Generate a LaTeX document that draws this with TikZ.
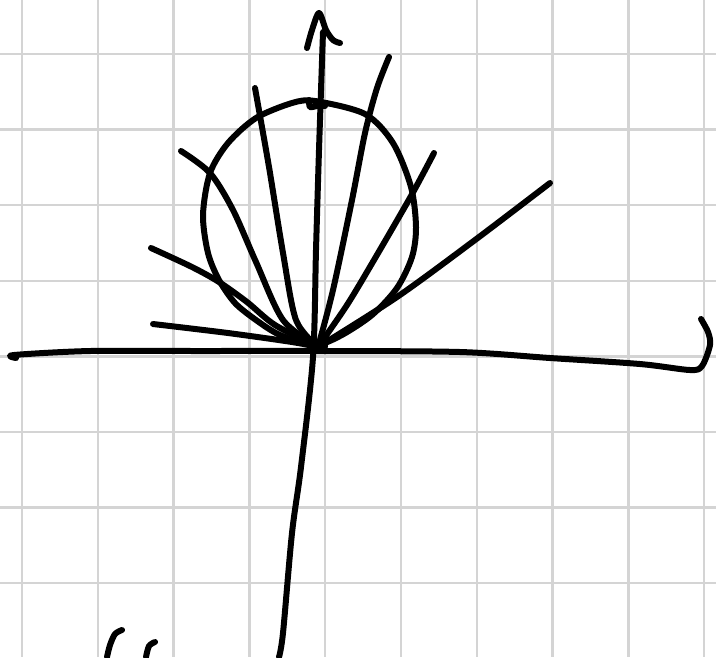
\documentclass[tikz,border=0pt]{standalone}
\usepackage{tikz}
\definecolor{paper}{HTML}{D4D4D4}

\begin{document}
\begin{tikzpicture}[
  x=0.02cm, y=-0.02cm,
  gridline/.style={draw=paper, line width=0.045cm},
  ink/.style={draw=black, line width=0.12cm, line cap=round, line join=round}]
\useasboundingbox[fill=white] (0,0) rectangle (716,657);
% squared paper
\foreach \gx in {0,...,9} \draw[gridline] (22+75.8*\gx,0) -- (22+75.8*\gx,657);
\foreach \gy in {0,...,7} \draw[gridline] (0,54+75.6*\gy) -- (716,54+75.6*\gy);
\coordinate (o) at (318,347);
% axes
\draw[ink] plot[smooth, tension=0.5] coordinates {(16,358) (14,355) (90,351) (200,351) (318,351) (460,352)
  (550,358) (640,364) (690,370) (702,366) (710,345) (708,332) (701,319)};
\draw[ink] plot[smooth] coordinates {(279,657) (283,633) (292,533) (301,467) (313,357) (316,250) (319,150) (323,32)};
\draw[ink] plot[smooth] coordinates {(307,48) (312,30) (319,13) (326,30) (333,40) (340,43)};
% circle
\draw[ink] plot[smooth cycle] coordinates {(315,101) (365,114) (393,143) (411,187) (416,227) (412,257)
  (397,288) (372,315) (340,336) (314,345) (280,335) (256,320) (235,303) (219,280) (208,253)
  (203,215) (210,173) (228,143) (256,118) (292,103)};
\draw[ink] plot[smooth] coordinates {(309,100) (310,107) (317,106) (325,106)};
% family of curves through the origin
\draw[ink] plot[smooth] coordinates {(153,324) (228,333) (292,342) (o)};
\draw[ink] plot[smooth] coordinates {(151,248) (192,267) (219,282) (247,302) (275,325) (o)};
\draw[ink] plot[smooth] coordinates {(181,151) (210,173) (233,210) (256,262) (283,320) (o)};
\draw[ink] plot[smooth] coordinates {(255,88) (269,167) (283,253) (296,320) (o)};
\draw[ink] plot[smooth] coordinates {(389,57) (377,88) (365,133) (352,200) (333,290) (o)};
\draw[ink] plot[smooth] coordinates {(434,153) (411,196) (374,260) (347,305) (o)};
\draw[ink] plot[smooth] coordinates {(550,183) (475,240) (397,297) (o)};
\fill (321,346) circle (7);
% strokes cut off at the bottom
\draw[ink] plot[smooth] coordinates {(122,630) (115,634) (110,645) (107,657)};
\draw[ink] plot[smooth] coordinates {(155,642) (149,646) (146,657)};
\end{tikzpicture}
\end{document}
